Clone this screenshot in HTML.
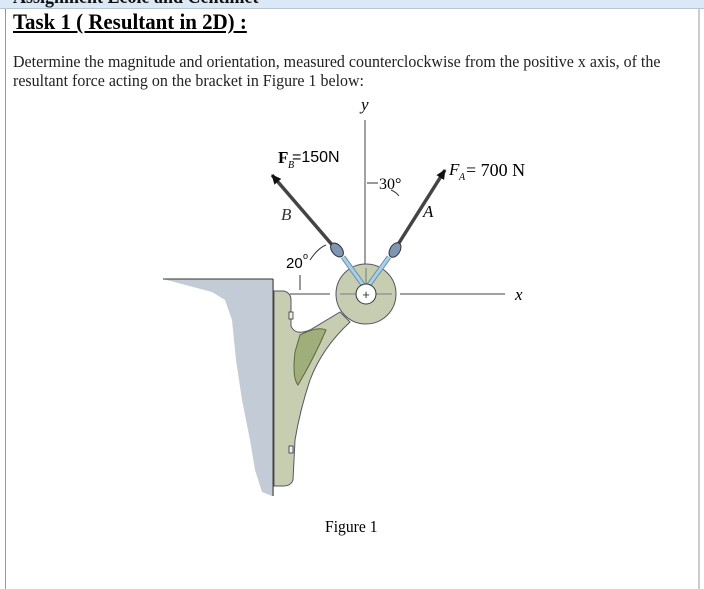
<!DOCTYPE html>
<html><head><style>
body{margin:0;width:704px;height:576px;overflow:hidden;background:#fff;font-family:"Liberation Serif",serif;}
.top{position:absolute;left:0;top:0;width:704px;height:8px;background:#dbe8f6;border-bottom:1px solid #b8c4d0;overflow:hidden;}
.top span{position:absolute;left:13px;top:-14px;font-size:20px;font-weight:bold;color:#111;white-space:nowrap;transform:scaleX(0.9);transform-origin:left;}
.box{position:absolute;left:5px;top:9px;width:692px;height:580px;border-left:1px solid #999;border-right:2px solid #ccc;}
.t{position:absolute;left:13px;top:9px;font-size:22px;font-weight:bold;text-decoration:underline;transform:scaleX(0.95);transform-origin:left;white-space:nowrap;}
.p{position:absolute;left:13px;top:52px;font-size:17px;line-height:19px;transform:scaleX(0.94);transform-origin:left;white-space:nowrap;color:#222;}
</style></head><body>
<div class="top"><span>Assignment Ecole and Centimet</span></div><div class="box"></div>
<div class="t">Task 1 ( Resultant in 2D) :</div>
<div class="p">Determine the magnitude and orientation, measured counterclockwise from the positive x axis, of the<br>resultant force acting on the bracket in Figure 1 below:</div>
<svg width="704" height="576" style="position:absolute;left:0;top:0">
<defs><marker id="ah" markerWidth="10" markerHeight="9" refX="9" refY="4.5" orient="auto" markerUnits="userSpaceOnUse"><path d="M0,0L10,4.5L0,9z" fill="#111"/></marker></defs>
<path d="M163,279 L272,279 L272,496 L262,492 L255,470 L250,440 L242,400 L236,360 L232,320 L225,300 L212,292 Z" fill="#c3ccd6"/>
<line x1="163" y1="279" x2="273" y2="279" stroke="#333" stroke-width="1"/>
<line x1="273" y1="279" x2="273" y2="496" stroke="#333" stroke-width="1.2"/>
<path d="M274,291 L284,291 Q291,293 291,300 L291,326 Q295,336 310,330 L340,312 L350,322 Q322,348 310,380 Q300,410 295,440 L293,480 Q291,486 283,486 L274,486 Z" fill="#c7cdb0" stroke="#556" stroke-width="1"/>
<path d="M300,335 Q318,326 326,330 Q314,358 298,385 Q292,378 295,352 Z" fill="#9fae7a" stroke="#5d6a3e" stroke-width="1"/>
<rect x="289" y="312" width="4" height="7" fill="#eee" stroke="#333" stroke-width="0.8"/>
<rect x="289" y="446" width="4" height="7" fill="#eee" stroke="#333" stroke-width="0.8"/>
<line x1="365" y1="120" x2="365" y2="280" stroke="#444" stroke-width="1"/>
<line x1="290" y1="294" x2="330" y2="294" stroke="#444" stroke-width="1"/>
<line x1="400" y1="294" x2="505" y2="294" stroke="#444" stroke-width="1"/>
<circle cx="366" cy="294" r="30" fill="#c7cdb0" stroke="#556" stroke-width="1"/>
<line x1="340" y1="294" x2="392" y2="294" stroke="#667" stroke-width="0.8"/>
<line x1="366" y1="268" x2="366" y2="286" stroke="#667" stroke-width="0.8"/>
<line x1="343" y1="257" x2="366" y2="289" stroke="#6e8fa8" stroke-width="5"/>
<line x1="343" y1="257" x2="366" y2="289" stroke="#a9cfe6" stroke-width="3"/>
<line x1="389" y1="257" x2="366" y2="289" stroke="#6e8fa8" stroke-width="5"/>
<line x1="389" y1="257" x2="366" y2="289" stroke="#a9cfe6" stroke-width="3"/>
<circle cx="366" cy="294" r="10" fill="#fff" stroke="#333" stroke-width="1"/>
<text x="366" y="299" font-family="Liberation Sans" font-size="13" text-anchor="middle" fill="#333">+</text>
<line x1="340" y1="254" x2="272" y2="175" stroke="#444" stroke-width="3.5" marker-end="url(#ah)"/>
<line x1="392" y1="254" x2="445" y2="170" stroke="#444" stroke-width="3.5" marker-end="url(#ah)"/>
<ellipse cx="337" cy="250" rx="5" ry="8" transform="rotate(-40 337 250)" fill="#7e95b4" stroke="#333"/>
<ellipse cx="395" cy="250" rx="5" ry="8" transform="rotate(32 395 250)" fill="#7e95b4" stroke="#333"/>
<path d="M300,275 L300,290" stroke="#333" fill="none"/>
<path d="M310,260 Q318,248 326,245" stroke="#333" fill="none"/>
<path d="M367,183 L378,183" stroke="#333"/><path d="M391,190 Q396,192 399,196" stroke="#333" fill="none"/>
<text x="361" y="110" font-size="17" font-style="italic">y</text>
<text x="515" y="300" font-size="17" font-style="italic">x</text>
<text x="278" y="163" font-size="17" font-weight="bold" font-family="Liberation Serif">F</text>
<text x="288" y="168" font-size="10" font-style="italic">B</text>
<text x="292" y="162" font-size="16" font-family="Liberation Sans">=150N</text>
<text x="281" y="220" font-size="17" font-style="italic" fill="#333">B</text>
<text x="286" y="268" font-size="15" font-family="Liberation Sans">20</text>
<text x="303" y="259" font-size="9" font-family="Liberation Sans">o</text>
<text x="379" y="189" font-size="16">30°</text>
<text x="449" y="175" font-size="17" font-style="italic">F</text>
<text x="459" y="180" font-size="10" font-style="italic">A</text>
<text x="466" y="176" font-size="18">= 700 N</text>
<text x="423" y="217" font-size="17" font-style="italic">A</text>
<text x="325" y="532" font-size="17" font-family="Liberation Serif" transform="scale(0.92,1)" style="transform-origin:325px 532px">Figure 1</text>
</svg>
</body></html>
